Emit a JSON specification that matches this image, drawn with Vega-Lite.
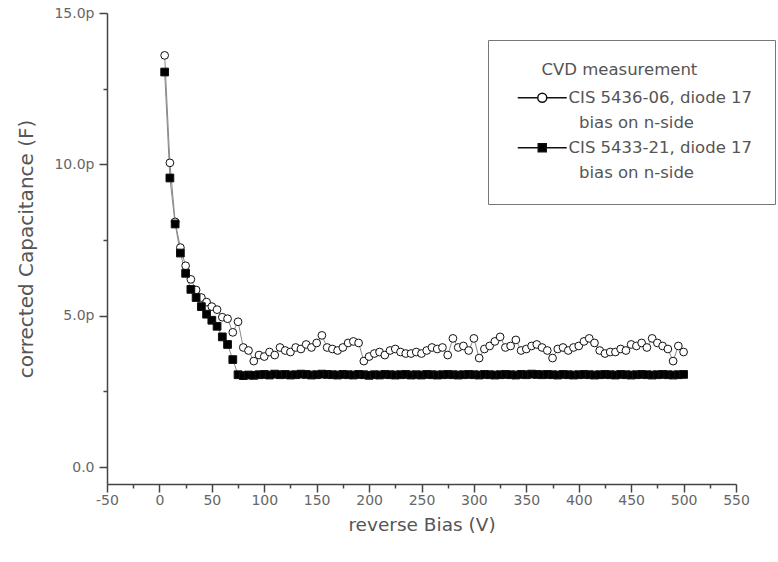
{
  "$schema": "https://vega.github.io/schema/vega-lite/v6.json",
  "width": 629,
  "height": 471,
  "autosize": {"type": "none"},
  "padding": {"left": 107, "top": 13, "right": 42, "bottom": 78},
  "background": "white",
  "config": {"view": {"stroke": null}, "font": "DejaVu Sans",
    "legend": {"orient": "none", "legendX": 381, "legendY": 27, "strokeColor": "#777", "padding": 22, "fillColor": "white",
      "titleFontSize": 16.5, "titleFontWeight": "normal", "titleColor": "#555", "titlePadding": 11, "titleLimit": 400,
      "labelFontSize": 16.5, "labelColor": "#555", "labelLimit": 400, "labelOffset": 18,
      "symbolSize": 100, "symbolOffset": 24, "rowPadding": 8}},
  "data": {"values": [
    {"v":5,"a":13.6,"b":13.05},{"v":10,"a":10.05,"b":9.55},{"v":15,"a":8.1,"b":8.03},{"v":20,"a":7.25,"b":7.07},
    {"v":25,"a":6.65,"b":6.4},{"v":30,"a":6.2,"b":5.87},{"v":35,"a":5.85,"b":5.6},{"v":40,"a":5.6,"b":5.3},
    {"v":45,"a":5.45,"b":5.05},{"v":50,"a":5.3,"b":4.85},{"v":55,"a":5.2,"b":4.65},{"v":60,"a":4.95,"b":4.3},
    {"v":65,"a":4.9,"b":4.05},{"v":70,"a":4.45,"b":3.55},{"v":75,"a":4.8,"b":3.05},{"v":80,"a":3.95,"b":3.02},
    {"v":85,"a":3.85,"b":3.04},{"v":90,"a":3.5,"b":3.03},{"v":95,"a":3.7,"b":3.05},{"v":100,"a":3.65,"b":3.06},
    {"v":105,"a":3.8,"b":3.04},{"v":110,"a":3.7,"b":3.07},{"v":115,"a":3.95,"b":3.05},{"v":120,"a":3.85,"b":3.06},
    {"v":125,"a":3.8,"b":3.04},{"v":130,"a":3.95,"b":3.05},{"v":135,"a":3.9,"b":3.07},{"v":140,"a":4.05,"b":3.06},
    {"v":145,"a":3.95,"b":3.04},{"v":150,"a":4.1,"b":3.05},{"v":155,"a":4.35,"b":3.07},{"v":160,"a":3.95,"b":3.06},
    {"v":165,"a":3.9,"b":3.05},{"v":170,"a":3.85,"b":3.04},{"v":175,"a":3.95,"b":3.06},{"v":180,"a":4.1,"b":3.05},
    {"v":185,"a":4.15,"b":3.04},{"v":190,"a":4.1,"b":3.06},{"v":195,"a":3.5,"b":3.05},{"v":200,"a":3.65,"b":3.03},
    {"v":205,"a":3.75,"b":3.05},{"v":210,"a":3.8,"b":3.04},{"v":215,"a":3.7,"b":3.06},{"v":220,"a":3.85,"b":3.05},
    {"v":225,"a":3.9,"b":3.04},{"v":230,"a":3.8,"b":3.05},{"v":235,"a":3.75,"b":3.06},{"v":240,"a":3.75,"b":3.04},
    {"v":245,"a":3.8,"b":3.05},{"v":250,"a":3.75,"b":3.04},{"v":255,"a":3.85,"b":3.06},{"v":260,"a":3.95,"b":3.05},
    {"v":265,"a":3.9,"b":3.04},{"v":270,"a":3.95,"b":3.05},{"v":275,"a":3.7,"b":3.06},{"v":280,"a":4.25,"b":3.05},
    {"v":285,"a":3.95,"b":3.04},{"v":290,"a":4.0,"b":3.05},{"v":295,"a":3.85,"b":3.06},{"v":300,"a":4.25,"b":3.05},
    {"v":305,"a":3.6,"b":3.04},{"v":310,"a":3.9,"b":3.06},{"v":315,"a":4.0,"b":3.05},{"v":320,"a":4.15,"b":3.04},
    {"v":325,"a":4.3,"b":3.05},{"v":330,"a":3.95,"b":3.06},{"v":335,"a":4.0,"b":3.05},{"v":340,"a":4.2,"b":3.04},
    {"v":345,"a":3.85,"b":3.06},{"v":350,"a":3.9,"b":3.05},{"v":355,"a":4.0,"b":3.07},{"v":360,"a":4.05,"b":3.06},
    {"v":365,"a":3.95,"b":3.05},{"v":370,"a":3.85,"b":3.06},{"v":375,"a":3.6,"b":3.05},{"v":380,"a":3.9,"b":3.04},
    {"v":385,"a":3.95,"b":3.06},{"v":390,"a":3.85,"b":3.05},{"v":395,"a":3.95,"b":3.04},{"v":400,"a":4.0,"b":3.05},
    {"v":405,"a":4.15,"b":3.06},{"v":410,"a":4.25,"b":3.05},{"v":415,"a":4.1,"b":3.04},{"v":420,"a":3.85,"b":3.05},
    {"v":425,"a":3.75,"b":3.06},{"v":430,"a":3.8,"b":3.05},{"v":435,"a":3.8,"b":3.04},{"v":440,"a":3.9,"b":3.06},
    {"v":445,"a":3.85,"b":3.05},{"v":450,"a":4.05,"b":3.04},{"v":455,"a":4.0,"b":3.05},{"v":460,"a":4.1,"b":3.06},
    {"v":465,"a":3.95,"b":3.05},{"v":470,"a":4.25,"b":3.04},{"v":475,"a":4.1,"b":3.05},{"v":480,"a":4.0,"b":3.06},
    {"v":485,"a":3.9,"b":3.05},{"v":490,"a":3.5,"b":3.04},{"v":495,"a":4.0,"b":3.05},{"v":500,"a":3.8,"b":3.06}
  ]},
  "transform": [{"fold": ["a", "b"], "as": ["series", "cap"]}],
  "encoding": {
    "x": {"field": "v", "type": "quantitative",
      "scale": {"domain": [-50, 550], "nice": false, "zero": false},
      "axis": {"title": "reverse Bias (V)", "grid": false,
        "values": [-50,-25,0,25,50,75,100,125,150,175,200,225,250,275,300,325,350,375,400,425,450,475,500,525,550],
        "labelExpr": "datum.value % 50 == 0 ? '' + datum.value : ''",
        "tickSize": {"condition": {"test": "datum.value % 50 != 0", "value": 4}, "value": 8},
        "labelFontSize": 14, "labelColor": "#666", "labelPadding": 1, "labelFlush": false,
        "titleFontSize": 18.5, "titleFontWeight": "normal", "titleColor": "#555", "titlePadding": 8,
        "domainColor": "#444", "domainWidth": 1.5, "tickColor": "#444", "tickWidth": 1.5}},
    "y": {"field": "cap", "type": "quantitative",
      "scale": {"domain": [-0.56, 15], "nice": false, "zero": false},
      "axis": {"title": "corrected Capacitance (F)", "grid": false,
        "values": [0, 2.5, 5, 7.5, 10, 12.5, 15],
        "labelExpr": "datum.value == 0 ? '0.0' : (datum.value % 5 == 0 ? format(datum.value, '.1f') + 'p' : '')",
        "tickSize": {"condition": {"test": "datum.value % 5 != 0", "value": 4}, "value": 8},
        "labelFontSize": 14, "labelColor": "#666", "labelPadding": 5,
        "titleFontSize": 20, "titleFontWeight": "normal", "titleColor": "#555", "titlePadding": 17,
        "domainColor": "#444", "domainWidth": 1.5, "tickColor": "#444", "tickWidth": 1.5}}
  },
  "layer": [
    {"mark": {"type": "line", "color": "#888", "strokeWidth": 1},
     "encoding": {"detail": {"field": "series"}}},
    {"mark": {"type": "point", "size": 60, "stroke": "#111", "strokeWidth": 1, "opacity": 1},
     "encoding": {
       "order": {"field": "series"},
       "shape": {"condition": {"test": "datum.series == 'a'", "value": "circle"}, "value": "square"},
       "fill": {"field": "series", "type": "nominal",
         "scale": {"domain": ["a", "a2", "b", "b2"], "range": ["white", "transparent", "black", "transparent"]},
         "legend": {"title": "\u200b\u00a0\u00a0\u00a0\u00a0\u00a0\u00a0CVD measurement"}}
     }},
    {"transform": [{"filter": "datum.series == 'none'"}],
     "mark": {"type": "point", "size": 60, "stroke": "#666", "strokeWidth": 1, "opacity": 1},
     "encoding": {
       "shape": {"field": "series", "type": "nominal",
         "scale": {"domain": ["a", "a2", "b", "b2"],
           "range": ["M-4.9,0H-0.9M0.9,0H4.9M0.9,0A0.9,0.9 0 1,1 -0.9,0A0.9,0.9 0 1,1 0.9,0Z", "M0,0", "M-4.9,0H-0.8M0.8,0H4.9M-0.8,-0.8H0.8V0.8H-0.8Z", "M0,0"]},
         "legend": {"title": "\u200b\u00a0\u00a0\u00a0\u00a0\u00a0\u00a0CVD measurement",
           "labelExpr": "datum.label == 'a' ? 'CIS 5436-06, diode 17' : datum.label == 'b' ? 'CIS 5433-21, diode 17' : '\u200b\u00a0\u00a0bias on n-side'"}},
       "fill": {"field": "series", "type": "nominal",
         "scale": {"domain": ["a", "a2", "b", "b2"], "range": ["white", "transparent", "black", "transparent"]},
         "legend": {"title": "\u200b\u00a0\u00a0\u00a0\u00a0\u00a0\u00a0CVD measurement"}}
     }}
  ]
}
